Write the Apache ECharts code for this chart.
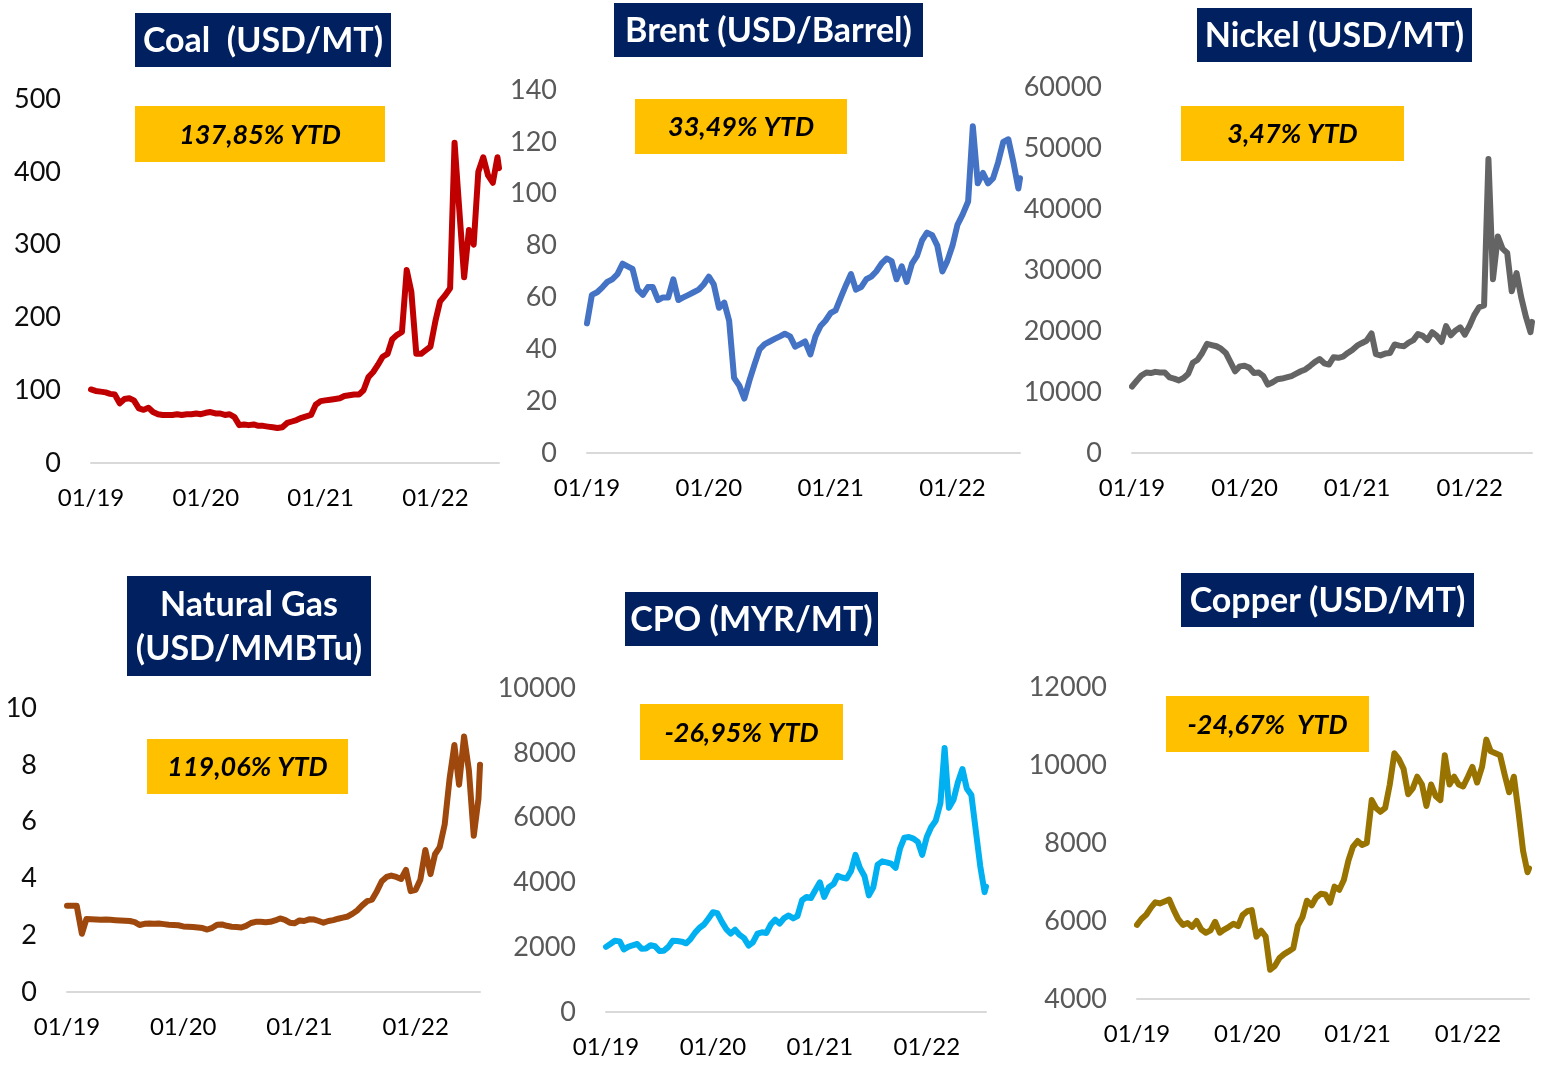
<!DOCTYPE html>
<html>
<head>
<meta charset="utf-8">
<script src="https://cdn.jsdelivr.net/npm/echarts@6/dist/echarts.min.js"></script>
<style>
  html, body { margin: 0; padding: 0; background: #ffffff; }
  #chart { width: 1550px; height: 1066px; }
</style>
</head>
<body>
<div id="chart"></div>
<script>
// Semi-monthly observation dates shared by all six commodity series
const dates = [
  '2019-01-01','2019-01-16','2019-02-01','2019-02-16','2019-03-01','2019-03-16','2019-04-01','2019-04-16',
  '2019-05-01','2019-05-16','2019-06-01','2019-06-16','2019-07-01','2019-07-16','2019-08-01','2019-08-16',
  '2019-09-01','2019-09-16','2019-10-01','2019-10-16','2019-11-01','2019-11-16','2019-12-01','2019-12-16',
  '2020-01-01','2020-01-16','2020-02-01','2020-02-16','2020-03-01','2020-03-16','2020-04-01','2020-04-16',
  '2020-05-01','2020-05-16','2020-06-01','2020-06-16','2020-07-01','2020-07-16','2020-08-01','2020-08-16',
  '2020-09-01','2020-09-16','2020-10-01','2020-10-16','2020-11-01','2020-11-16','2020-12-01','2020-12-16',
  '2021-01-01','2021-01-16','2021-02-01','2021-02-16','2021-03-01','2021-03-16','2021-04-01','2021-04-16',
  '2021-05-01','2021-05-16','2021-06-01','2021-06-16','2021-07-01','2021-07-16','2021-08-01','2021-08-16',
  '2021-09-01','2021-09-16','2021-10-01','2021-10-16','2021-11-01','2021-11-16','2021-12-01','2021-12-16',
  '2022-01-01','2022-01-16','2022-02-01','2022-02-16','2022-03-01','2022-03-16','2022-04-01','2022-04-16',
  '2022-05-01','2022-05-16','2022-06-01','2022-06-16','2022-07-01','2022-07-16','2022-07-21'
];

// Year tick labels on every horizontal axis
const yearLabels = ['01/19', '01/20', '01/21', '01/22'];

// Coal (USD/MT)
const coal = [
  101, 99, 98, 97, 95, 94, 82, 88, 89, 86, 75, 73, 76, 70, 67, 66, 66, 66, 67, 66, 67, 67, 68, 67,
  69, 70, 68, 68, 66, 67, 63, 52, 53, 52, 53, 51, 51, 50, 49, 48, 49, 55, 57, 59, 62, 64, 66, 80,
  85, 86, 87, 88, 89, 92, 93, 94, 94, 100, 118, 125, 135, 146, 150, 170, 176, 180, 265, 235, 150, 150, 155, 160,
  195, 222, 230, 240, 440, 350, 255, 320, 300, 400, 420, 395, 385, 420, 405
];

// Brent (USD/Barrel)
const brent = [
  50, 61, 62, 64, 66, 67, 69, 73, 72, 71, 63, 61, 64, 64, 59, 60, 60, 67, 59, 60, 61, 62, 63, 65,
  68, 65, 56, 58, 51, 29, 26, 21, 28, 34, 40, 42, 43, 44, 45, 46, 45, 41, 42, 43, 38, 45, 49, 51,
  54, 55, 60, 65, 69, 63, 64, 67, 68, 70, 73, 75, 74, 67, 72, 66, 73, 76, 82, 85, 84, 80, 70, 74,
  80, 88, 92, 97, 126, 104, 108, 104, 106, 112, 120, 121, 112, 102, 106
];

// Nickel (USD/MT)
const nickel = [
  10900, 11800, 12700, 13200, 13100, 13300, 13200, 13200, 12400, 12200, 11900, 12300, 13000, 14800, 15300, 16400,
  17900, 17700, 17500, 17100, 16400, 14900, 13400, 14200,
  14300, 14000, 13100, 13200, 12600, 11200, 11600, 12100, 12200, 12400, 12600, 13000, 13400, 13700, 14300, 14900,
  15400, 14700, 14500, 15700, 15600, 15800, 16400, 16900,
  17600, 18000, 18400, 19600, 16200, 16000, 16300, 16400, 17800, 17600, 17500, 18100, 18500, 19500, 19200, 18500,
  19800, 19200, 18200, 20800, 19300, 20100, 20600, 19400,
  20900, 22600, 23900, 24200, 48200, 28500, 35500, 33500, 32800, 26500, 29500, 25500, 22300, 19800, 21500
];

// Natural Gas (USD/MMBTu)
const natGas = [
  3.04, 3.04, 3.04, 2.05, 2.57, 2.56, 2.55, 2.54, 2.55, 2.54, 2.53, 2.52, 2.51, 2.50, 2.46, 2.36,
  2.40, 2.41, 2.40, 2.41, 2.39, 2.37, 2.36, 2.35,
  2.31, 2.30, 2.29, 2.27, 2.25, 2.20, 2.26, 2.37, 2.38, 2.33, 2.30, 2.29, 2.27, 2.33, 2.43, 2.47,
  2.47, 2.46, 2.47, 2.52, 2.59, 2.54, 2.44, 2.42,
  2.52, 2.50, 2.56, 2.55, 2.50, 2.44, 2.50, 2.53, 2.58, 2.62, 2.66, 2.76, 2.88, 3.05, 3.20, 3.25,
  3.55, 3.90, 4.05, 4.10, 4.05, 3.98, 4.30, 3.55,
  3.60, 3.95, 5.00, 4.15, 4.85, 5.10, 5.90, 7.50, 8.70, 7.30, 9.00, 7.80, 5.50, 6.80, 8.00
];

// CPO (MYR/MT)
const cpo = [
  2010, 2100, 2200, 2180, 1930, 2010, 2060, 2100, 1950, 1960, 2060, 2030, 1880, 1890, 2010, 2200,
  2190, 2170, 2120, 2250, 2450, 2600, 2700, 2880,
  3080, 3050, 2780, 2550, 2420, 2540, 2380, 2280, 2050, 2150, 2420, 2460, 2440, 2700, 2850, 2730,
  2900, 2980, 2890, 2960, 3450, 3550, 3520, 3760,
  4000, 3550, 3850, 3950, 4200, 4150, 4120, 4350, 4850, 4450, 4200, 3600, 3850, 4550, 4650, 4620,
  4580, 4450, 5050, 5380, 5400, 5350, 5250, 4850,
  5400, 5700, 5900, 6450, 8150, 6300, 6550, 7100, 7500, 6900, 6700, 5600, 4500, 3700, 3870
];

// Copper (USD/MT)
const copper = [
  5900, 6050, 6160, 6350, 6480, 6450, 6500, 6550, 6280, 6050, 5900, 5950, 5850, 6000, 5780, 5700,
  5760, 5980, 5700, 5780, 5850, 5930, 5870, 6150,
  6250, 6280, 5600, 5750, 5600, 4750, 4850, 5050, 5150, 5220, 5300, 5880, 6100, 6520, 6400, 6600,
  6700, 6680, 6470, 6880, 6800, 7050, 7550, 7900,
  8050, 7950, 8000, 9100, 8900, 8800, 8900, 9500, 10300, 10150, 9900, 9250, 9400, 9700, 9500, 8950,
  9500, 9200, 9100, 10250, 9500, 9700, 9500, 9450,
  9700, 9950, 9550, 9950, 10650, 10350, 10300, 10250, 9750, 9300, 9700, 8800, 7800, 7250, 7350
];

// Headline texts
const titles = ['Coal  (USD/MT)', 'Brent (USD/Barrel)', 'Nickel (USD/MT)',
                'Natural Gas\n(USD/MMBTu)', 'CPO (MYR/MT)', 'Copper (USD/MT)'];
const ytdTexts = ['137,85% YTD', '33,49% YTD', '3,47% YTD',
                  '119,06% YTD', '-26,95% YTD', '-24,67%  YTD'];

// Months elapsed since 1 Jan 2019 (fractional), used as the x value
function monthIndex(s) {
  const [y, m, d] = s.split('-').map(Number);
  const daysInMonth = new Date(Date.UTC(y, m, 0)).getUTCDate();
  return (y - 2019) * 12 + (m - 1) + (d - 1) / daysInMonth;
}
const xs = dates.map(monthIndex);
const xMax = xs[xs.length - 1];

const FONT = 'Lato, "Open Sans", sans-serif';

// Panel layout and styling
const panels = [
  { values: coal,   color: '#c00000', yMin: 0,    yMax: 500,   step: 100,   yColor: '#0d0d0d',
    grid: { left: 91,   top: 99,  width: 408, height: 364 },
    titleBox: [135, 13, 256, 54],  ytdBox: [135, 106, 250, 56] },
  { values: brent,  color: '#4472c4', yMin: 0,    yMax: 140,   step: 20,    yColor: '#595959',
    grid: { left: 587,  top: 90,  width: 433, height: 363 },
    titleBox: [614, 3, 309, 54],   ytdBox: [635, 99, 212, 55] },
  { values: nickel, color: '#646464', yMin: 0,    yMax: 60000, step: 10000, yColor: '#595959',
    grid: { left: 1132, top: 87,  width: 400, height: 366 },
    titleBox: [1197, 8, 275, 54],  ytdBox: [1181, 106, 223, 55] },
  { values: natGas, color: '#9e480e', yMin: 0,    yMax: 10,    step: 2,     yColor: '#0d0d0d',
    grid: { left: 67,   top: 708, width: 413, height: 284 },
    titleBox: [127, 576, 244, 100], ytdBox: [147, 739, 201, 55] },
  { values: cpo,    color: '#00b0f0', yMin: 0,    yMax: 10000, step: 2000,  yColor: '#595959',
    grid: { left: 606,  top: 688, width: 380, height: 324 },
    titleBox: [625, 592, 253, 54], ytdBox: [640, 704, 203, 56] },
  { values: copper, color: '#997300', yMin: 4000, yMax: 12000, step: 2000,  yColor: '#595959',
    grid: { left: 1137, top: 687, width: 392, height: 312 },
    titleBox: [1181, 573, 293, 54], ytdBox: [1166, 696, 203, 56] }
];

const grids = [], xAxes = [], yAxes = [], series = [], graphics = [];

panels.forEach((p, i) => {
  grids.push(Object.assign({ containLabel: false }, p.grid));

  xAxes.push({
    type: 'value', gridIndex: i, min: 0, max: xMax, interval: 12,
    axisLine: { show: true, lineStyle: { color: '#d9d9d9', width: 2 } },
    axisTick: { show: false },
    splitLine: { show: false },
    axisLabel: {
      showMaxLabel: false,
      margin: 23, fontSize: 24, color: '#000000', fontFamily: FONT,
      formatter: v => (Math.abs(v % 12) < 1e-9 && yearLabels[v / 12] !== undefined) ? yearLabels[v / 12] : ''
    }
  });

  yAxes.push({
    type: 'value', gridIndex: i, min: p.yMin, max: p.yMax, interval: p.step,
    axisLine: { show: false },
    axisTick: { show: false },
    splitLine: { show: false },
    axisLabel: { margin: 30, fontSize: 27, color: p.yColor, fontFamily: FONT, formatter: v => String(v) }
  });

  series.push({
    type: 'line', xAxisIndex: i, yAxisIndex: i,
    data: xs.map((x, k) => [x, p.values[k]]),
    showSymbol: false, symbol: 'none', smooth: false,
    lineStyle: { color: p.color, width: 6, join: 'round', cap: 'round' },
    itemStyle: { color: p.color },
    animation: false
  });

  // Navy headline box
  const [tx, ty, tw, th] = p.titleBox;
  graphics.push({
    type: 'rect', z: 100,
    shape: { x: tx, y: ty, width: tw, height: th },
    style: { fill: '#002060' }
  });
  graphics.push({
    type: 'text', z: 101,
    x: tx + tw / 2, y: ty + th / 2 + 1,
    style: {
      text: titles[i], fill: '#ffffff', font: 'bold 34px ' + FONT,
      textAlign: 'center', textVerticalAlign: 'middle',
      align: 'center', verticalAlign: 'middle', lineHeight: 44
    }
  });

  // Yellow year-to-date change box
  const [bx, by, bw, bh] = p.ytdBox;
  graphics.push({
    type: 'rect', z: 100,
    shape: { x: bx, y: by, width: bw, height: bh },
    style: { fill: '#ffc000' }
  });
  graphics.push({
    type: 'text', z: 101,
    x: bx + bw / 2, y: by + bh / 2 + 1,
    style: {
      text: ytdTexts[i], fill: '#000000', font: 'italic bold 27px ' + FONT,
      textAlign: 'center', textVerticalAlign: 'middle',
      align: 'center', verticalAlign: 'middle'
    }
  });
});

const chart = echarts.init(document.getElementById('chart'), null, { renderer: 'canvas' });
chart.setOption({
  backgroundColor: '#ffffff',
  animation: false,
  grid: grids,
  xAxis: xAxes,
  yAxis: yAxes,
  series: series,
  graphic: { elements: graphics }
});
</script>
</body>
</html>
